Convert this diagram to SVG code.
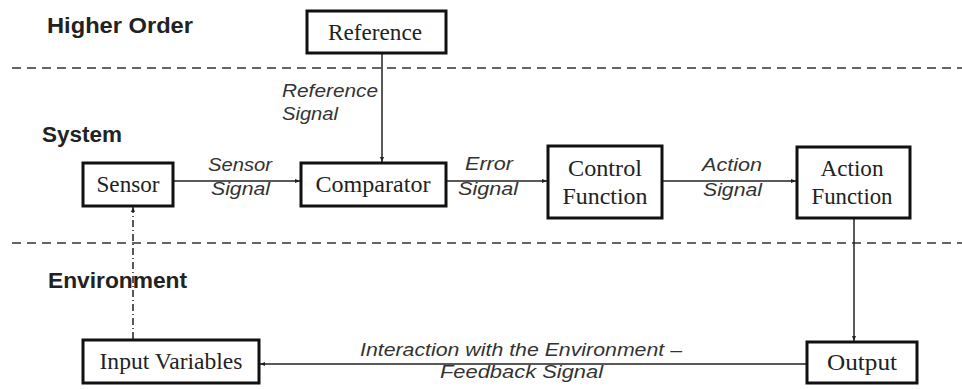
<svg xmlns="http://www.w3.org/2000/svg" width="962" height="389" viewBox="0 0 962 389">
  <style>
    .box { fill: #fff; stroke: #111; stroke-width: 3; }
    .zone { font-family: "Liberation Sans", Arial, sans-serif; font-weight: bold; font-size: 22px; fill: #222; }
    .name { font-family: "Liberation Serif", "Times New Roman", serif; font-size: 22.5px; fill: #222; text-anchor: middle; }
    .sig { font-family: "Liberation Sans", Arial, sans-serif; font-style: italic; font-size: 18.5px; fill: #333; }
    .wire { stroke: #222; stroke-width: 1.5; fill: none; }
    .divider { stroke: #333; stroke-width: 1.5; stroke-dasharray: 9 6; fill: none; }
  </style>
  <defs>
    <marker id="arrow" viewBox="0 0 10 10" refX="10" refY="5" markerWidth="5" markerHeight="5" orient="auto" markerUnits="userSpaceOnUse">
      <path d="M0,1 L10,5 L0,9 z" fill="#222"/>
    </marker>
  </defs>
  <rect width="962" height="389" fill="#fff"/>

  <!-- layer dividers -->
  <g id="dividers">
    <line class="divider" x1="12" y1="68" x2="962" y2="68"/>
    <line class="divider" x1="12" y1="243" x2="962" y2="243"/>
  </g>

  <!-- layer titles -->
  <g id="zones">
    <text class="zone" x="47" y="33" textLength="146" lengthAdjust="spacingAndGlyphs">Higher Order</text>
    <text class="zone" x="42" y="142" textLength="80" lengthAdjust="spacingAndGlyphs">System</text>
    <text class="zone" x="48" y="288" textLength="139" lengthAdjust="spacingAndGlyphs">Environment</text>
  </g>

  <!-- connectors -->
  <g id="connectors">
    <line class="wire" x1="382" y1="53" x2="382" y2="162" marker-end="url(#arrow)"/>
    <line class="wire" x1="173" y1="181" x2="300" y2="181" marker-end="url(#arrow)"/>
    <line class="wire" x1="446" y1="181" x2="547" y2="181" marker-end="url(#arrow)"/>
    <line class="wire" x1="662" y1="181" x2="796" y2="181" marker-end="url(#arrow)"/>
    <line class="wire" x1="854" y1="218" x2="854" y2="341" marker-end="url(#arrow)"/>
    <line class="wire" x1="807" y1="364" x2="260" y2="364" marker-end="url(#arrow)"/>
    <line class="wire" x1="133" y1="339" x2="133" y2="207" stroke-dasharray="7 3 1 3" marker-end="url(#arrow)"/>

    <text class="sig" x="282" y="97" textLength="96" lengthAdjust="spacingAndGlyphs">Reference</text>
    <text class="sig" x="282" y="120" textLength="56" lengthAdjust="spacingAndGlyphs">Signal</text>
    <text class="sig" x="208" y="171" textLength="64" lengthAdjust="spacingAndGlyphs">Sensor</text>
    <text class="sig" x="211" y="195" textLength="59" lengthAdjust="spacingAndGlyphs">Signal</text>
    <text class="sig" x="465" y="170" textLength="48" lengthAdjust="spacingAndGlyphs">Error</text>
    <text class="sig" x="458" y="195" textLength="60" lengthAdjust="spacingAndGlyphs">Signal</text>
    <text class="sig" x="702" y="171" textLength="60" lengthAdjust="spacingAndGlyphs">Action</text>
    <text class="sig" x="703" y="196" textLength="59" lengthAdjust="spacingAndGlyphs">Signal</text>
    <text class="sig" x="360" y="356" textLength="322" lengthAdjust="spacingAndGlyphs">Interaction with the Environment –</text>
    <text class="sig" x="440" y="378" textLength="163" lengthAdjust="spacingAndGlyphs">Feedback Signal</text>
  </g>

  <!-- nodes -->
  <g id="reference">
    <rect class="box" x="307" y="11" width="139" height="42"/>
    <text class="name" x="375" y="40" textLength="94" lengthAdjust="spacingAndGlyphs">Reference</text>
  </g>
  <g id="sensor">
    <rect class="box" x="83" y="163" width="90" height="43"/>
    <text class="name" x="128" y="192" textLength="63" lengthAdjust="spacingAndGlyphs">Sensor</text>
  </g>
  <g id="comparator">
    <rect class="box" x="301" y="163" width="145" height="43"/>
    <text class="name" x="373" y="192" textLength="115" lengthAdjust="spacingAndGlyphs">Comparator</text>
  </g>
  <g id="control-function">
    <rect class="box" x="548" y="146" width="114" height="72"/>
    <text class="name" x="605" y="176" textLength="74" lengthAdjust="spacingAndGlyphs">Control</text>
    <text class="name" x="605" y="204" textLength="85" lengthAdjust="spacingAndGlyphs">Function</text>
  </g>
  <g id="action-function">
    <rect class="box" x="797" y="147" width="113" height="71"/>
    <text class="name" x="852" y="176" textLength="63" lengthAdjust="spacingAndGlyphs">Action</text>
    <text class="name" x="852" y="204" textLength="81" lengthAdjust="spacingAndGlyphs">Function</text>
  </g>
  <g id="input-variables">
    <rect class="box" x="83" y="340" width="176" height="43"/>
    <text class="name" x="171" y="369" textLength="143" lengthAdjust="spacingAndGlyphs">Input Variables</text>
  </g>
  <g id="output">
    <rect class="box" x="807" y="342" width="110" height="41"/>
    <text class="name" x="862" y="370" textLength="70" lengthAdjust="spacingAndGlyphs">Output</text>
  </g>
</svg>
